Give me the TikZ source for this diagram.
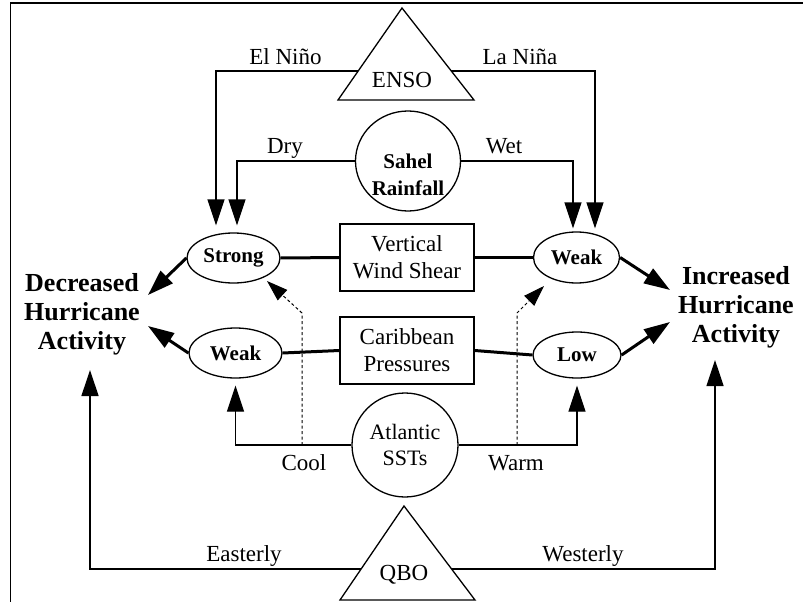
\documentclass[tikz,border=0pt]{standalone}
\usepackage{fontspec}
\setmainfont{Liberation Serif}
\usetikzlibrary{arrows.meta,shapes.geometric,calc}

\begin{document}
\begin{tikzpicture}[x=1pt,y=-1pt,
  lbl/.style={font=\fontsize{23}{27}\selectfont, inner sep=0pt, anchor=base},
  bubble/.style={draw, ellipse, line width=1.3pt, inner sep=0pt, font=\fontsize{21}{26}\selectfont\bfseries},
  panel/.style={draw, rectangle, line width=1.3pt, minimum width=134pt, minimum height=67pt, align=center, font=\fontsize{23}{27}\selectfont},
  effect/.style={align=center, inner sep=0pt, font=\fontsize{26}{29}\selectfont\bfseries},
  link/.style={line width=1.3pt},
  bar/.style={line width=3pt},
  big/.style={-{Triangle[length=26pt,width=17pt]}},
  hint/.style={line width=1pt, dash pattern=on 3pt off 2.5pt, -{Triangle[length=21pt,width=14pt]}}]
\useasboundingbox (0,0) rectangle (803,602);
\draw[link] (10.5,602) -- (10.5,3) -- (803,3);

% triangles
\coordinate (ensoA) at (402,8);
\coordinate (ensoB) at (338,100);
\coordinate (ensoC) at (474,100);
\draw[link] (ensoA) -- (ensoC) -- (ensoB) -- cycle;
\coordinate (ensoW) at ($(ensoA)!0.685!(ensoB)$);
\coordinate (ensoE) at ($(ensoA)!0.685!(ensoC)$);
\node[lbl] (enso) at (402,88) {ENSO};

\coordinate (qboA) at (404,506);
\coordinate (qboB) at (340,600);
\coordinate (qboC) at (475,600);
\draw[link] (qboA) -- (qboC) -- (qboB) -- cycle;
\coordinate (qboW) at ($(qboA)!0.67!(qboB)$);
\coordinate (qboE) at ($(qboA)!0.67!(qboC)$);
\node[lbl] (qbo) at (404,580) {QBO};

% factors
\node[bubble, minimum width=105pt, minimum height=100pt] (sahel) at (408,161) {};
\node[lbl, anchor=center, align=center, font=\fontsize{21}{27}\selectfont\bfseries] (sahelTxt) at (408,175) {Sahel\\Rainfall};
\node[panel] (vws) at (407,257.5) {Vertical\\Wind Shear};
\node[panel] (carib) at (407,350.5) {Caribbean\\Pressures};
\node[bubble, minimum width=106pt, minimum height=104pt, align=center, font=\fontsize{22}{26}\selectfont] (atl) at (405,445) {Atlantic\\SSTs};

\node[bubble, minimum width=93pt, minimum height=50pt] (strong) at (233.5,258) {Strong};
\node[bubble, minimum width=93pt, minimum height=50pt] (weakL) at (235.5,353) {Weak};
\node[bubble, minimum width=86pt, minimum height=51pt] (weakR) at (576.5,257.5) {Weak};
\node[bubble, minimum width=88pt, minimum height=46pt] (low) at (577,355) {Low};

\node[effect] (decr) at (82,314) {Decreased\\Hurricane\\Activity};
\node[effect] (incr) at (736,307) {Increased\\Hurricane\\Activity};

% labels
\node[lbl] (elnino) at (285.5,64) {El Niño};
\node[lbl] (lanina) at (520,65) {La Niña};
\node[lbl] (dry) at (285,153) {Dry};
\node[lbl] (wet) at (504,153) {Wet};
\node[lbl] (cool) at (304,470) {Cool};
\node[lbl] (warm) at (516,470) {Warm};
\node[lbl] (easterly) at (244,561) {Easterly};
\node[lbl] (westerly) at (583,561) {Westerly};

% connectors
\draw[link, big, shorten >=7pt] (ensoW) -| ([xshift=-17.5pt]strong.north);
\draw[link, big, shorten >=7pt] (sahel.west) -| ([xshift=3.5pt]strong.north);
\draw[link, big, shorten >=3pt] (sahel.east) -| ([xshift=-3.5pt]weakR.north);
\draw[link, big, shorten >=3pt] (ensoE) -| ([xshift=18.5pt]weakR.north);

\draw[bar] (strong.east) -- (vws.west);
\draw[bar] (vws.east) -- (weakR.west);
\draw[bar] (weakL.east) -- (carib.west);
\draw[bar] (carib.east) -- (low.west);

\coordinate (decrA) at (148,295);
\coordinate (decrB) at (148,326);
\coordinate (decrC) at (90,370);
\coordinate (incrA) at (670,290);
\coordinate (incrB) at (670,322);
\coordinate (incrC) at (715,360);
\draw[bar, big] (strong.west) -- (decrA);
\draw[bar, big] (weakL.west) -- (decrB);
\draw[bar, big] (weakR.east) -- (incrA);
\draw[bar, big] (low.east) -- (incrB);

\draw[link, big, shorten >=7pt] (atl.west) -| (weakL.south);
\draw[link, big, shorten >=7pt] (atl.east) -| (low.south);

\coordinate (coolD) at (302,445);
\coordinate (warmD) at (517,445);
\coordinate (strongIn) at (267,281);
\coordinate (weakIn) at (544,286);
\draw[hint] (coolD) -- ++(0,-132) -- (strongIn);
\draw[hint] (warmD) -- ++(0,-132) -- (weakIn);

\draw[link, big] (qboW) -| (decrC);
\draw[link, big] (qboE) -| (incrC);
\end{tikzpicture}
\end{document}
